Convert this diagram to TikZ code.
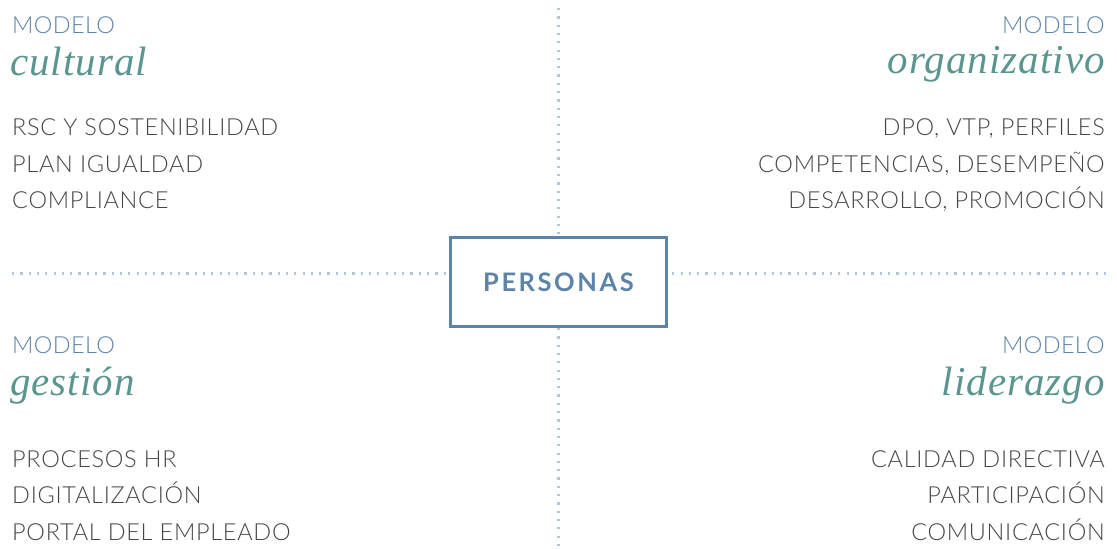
\documentclass[tikz,border=0pt]{standalone}
\usepackage{fontspec}
\setmainfont{Lato Light}[BoldFont={Lato Bold}]
\newfontfamily\cursiva{Liberation Serif}
\usepackage{tikz}
\usetikzlibrary{positioning}
\definecolor{azul}{HTML}{5B84A8}
\definecolor{verde}{HTML}{5A968F}
\definecolor{gris}{HTML}{464646}
\definecolor{punto}{HTML}{B3C6D8}

\begin{document}
\begin{tikzpicture}[x=1pt, y=-1pt,
	modelo/.style={inner sep=0pt, text=azul, font=\addfontfeatures{LetterSpace=1.5}\fontsize{23.5}{28}\selectfont},
	titulo/.style={inner sep=0pt, text=verde, font=\cursiva\itshape\addfontfeatures{LetterSpace=2.5}\fontsize{41}{46}\selectfont},
	item/.style={inner sep=0pt, text=gris, font=\addfontfeatures{LetterSpace=3}\fontsize{23.5}{28}\selectfont},
	hub/.style={draw=azul, line width=2.6pt, minimum width=216pt, minimum height=89pt,
		text=azul, font=\bfseries\addfontfeatures{LetterSpace=10}\fontsize{25.5}{30}\selectfont},
	puntos/.style={draw=punto, line width=2.2pt, dash pattern=on 2.2pt off 6.1pt}]
	\useasboundingbox (0,0) rectangle (1117,549);
	\node [hub] (P) at (558.5,282) {PERSONAS};
	%% cultural
	\node [modelo, anchor=base west] (M1) at (12,33) {MODELO};
	\node [titulo, anchor=base west] (T1) at (10,75) {cultural};
	\node [item, anchor=base west] (A1) at (12,135) {RSC Y SOSTENIBILIDAD};
	\node [item, anchor=base west] (A2) at (12,172) {PLAN IGUALDAD};
	\node [item, anchor=base west] (A3) at (12,208) {COMPLIANCE};
	%% organizativo
	\node [modelo, anchor=base east] (M2) at (1105,33) {MODELO};
	\node [titulo, anchor=base east] (T2) at (1105,73) {organizativo};
	\node [item, anchor=base east] (B1) at (1105,135) {DPO, VTP, PERFILES};
	\node [item, anchor=base east] (B2) at (1105,172) {COMPETENCIAS, DESEMPEÑO};
	\node [item, anchor=base east] (B3) at (1105,208) {DESARROLLO, PROMOCIÓN};
	%% gestion
	\node [modelo, anchor=base west] (M3) at (12,353) {MODELO};
	\node [titulo, anchor=base west] (T3) at (10,395) {gestión};
	\node [item, anchor=base west] (C1) at (12,467) {PROCESOS HR};
	\node [item, anchor=base west] (C2) at (12,503) {DIGITALIZACIÓN};
	\node [item, anchor=base west] (C3) at (12,540) {PORTAL DEL EMPLEADO};
	%% liderazgo
	\node [modelo, anchor=base east] (M4) at (1105,353) {MODELO};
	\node [titulo, anchor=base east] (T4) at (1105,395) {liderazgo};
	\node [item, anchor=base east] (D1) at (1105,467) {CALIDAD DIRECTIVA};
	\node [item, anchor=base east] (D2) at (1105,503) {PARTICIPACIÓN};
	\node [item, anchor=base east] (D3) at (1105,540) {COMUNICACIÓN};
	%% Ejes
	\coordinate (N) at (558.5,8);
	\coordinate (S) at (558.5,546);
	\coordinate (W) at (12,273.5);
	\coordinate (E) at (1106,273.5);
	\draw [puntos] (N) -- (P.north);
	\draw [puntos] (S) -- (P.south);
	\draw [puntos] (W) -- (P.west |- W);
	\draw [puntos] (E) -- (P.east |- E);
\end{tikzpicture}
\end{document}
